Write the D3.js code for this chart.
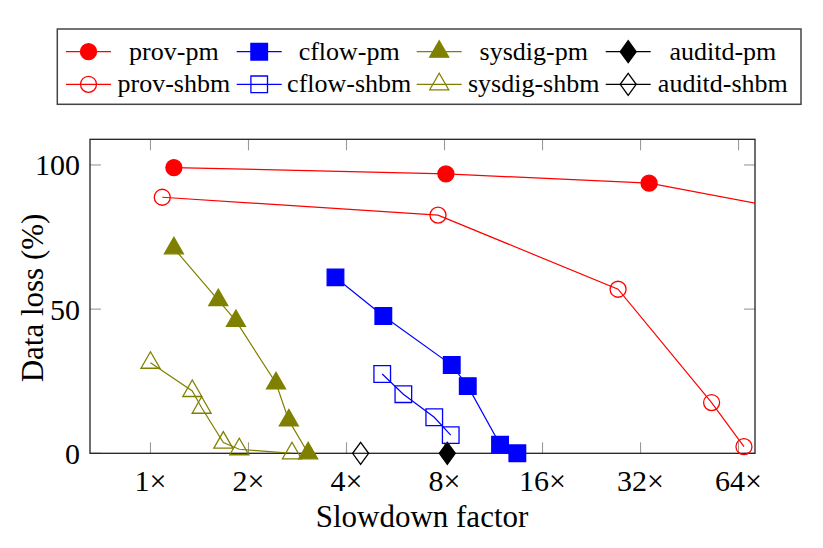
<!DOCTYPE html>
<html>
<head>
<meta charset="utf-8">
<script src="https://cdn.jsdelivr.net/npm/d3@7"></script>
<style>
  body { margin: 0; background: #fff; }
</style>
</head>
<body>
<svg id="chart" width="823" height="548" font-family="'Liberation Serif', 'DejaVu Serif', serif"></svg>
<script>
// data
const xTicks = [1, 2, 4, 8, 16, 32, 64];
const yTicks = [0, 50, 100];
const xTickLabels = ['1×', '2×', '4×', '8×', '16×', '32×', '64×'];

const provPmX = [1.18, 8.08, 34.0, 128];
const provPmY = [99.1, 96.9, 93.7, 81.4];
const cflowPmX = [3.7, 5.19, 8.42, 9.43, 11.85, 13.39];
const cflowPmY = [61.0, 47.6, 30.6, 23.3, 3.0, 0];
const sysdigPmX = [1.18, 1.615, 1.83, 2.43, 2.66, 3.05];
const sysdigPmY = [71.1, 53.1, 45.9, 24.3, 11.4, 0];
const auditdPmX = [8.16];
const auditdPmY = [0];

const provShbmX = [1.087, 7.64, 27.3, 52.9, 66.5];
const provShbmY = [88.8, 82.6, 56.9, 17.6, 2.3];
const cflowShbmX = [5.15, 5.98, 7.44, 8.36];
const cflowShbmY = [27.5, 20.5, 12.5, 6.3];
const sysdigShbmX = [1.0, 1.344, 1.436, 1.674, 1.874, 2.72];
const sysdigShbmY = [31.4, 21.6, 15.8, 3.7, 1.4, 0];
const auditdShbmX = [4.42];
const auditdShbmY = [0];

const legendNames = ['prov-pm', 'cflow-pm', 'sysdig-pm', 'auditd-pm',
                     'prov-shbm', 'cflow-shbm', 'sysdig-shbm', 'auditd-shbm'];

const zip = (xs, ys) => xs.map((x, i) => ({x: x, y: ys[i]}));

const series = [
  {name: 'prov-pm', color: '#ff0000', mark: 'circle', filled: true, pts: zip(provPmX, provPmY)},
  {name: 'cflow-pm', color: '#0000ff', mark: 'square', filled: true, pts: zip(cflowPmX, cflowPmY)},
  {name: 'sysdig-pm', color: '#808000', mark: 'triangle', filled: true, pts: zip(sysdigPmX, sysdigPmY)},
  {name: 'auditd-pm', color: '#000000', mark: 'diamond', filled: true, pts: zip(auditdPmX, auditdPmY)},
  {name: 'prov-shbm', color: '#ff0000', mark: 'circle', filled: false, pts: zip(provShbmX, provShbmY)},
  {name: 'cflow-shbm', color: '#0000ff', mark: 'square', filled: false, pts: zip(cflowShbmX, cflowShbmY)},
  {name: 'sysdig-shbm', color: '#808000', mark: 'triangle', filled: false, pts: zip(sysdigShbmX, sysdigShbmY)},
  {name: 'auditd-shbm', color: '#000000', mark: 'diamond', filled: false, pts: zip(auditdShbmX, auditdShbmY)}
];

const plotLeft = 90, plotRight = 755, plotTop = 139.3, plotBottom = 453.3;
const tickLen = 11;

const svg = d3.select('#chart');

const xScale = d3.scaleLog().base(2).domain([0.652, 71.9]).range([plotLeft, plotRight]);
const yScale = d3.scaleLinear().domain([0, 108.9]).range([plotBottom, plotTop]);

function markPath(type) {
  if (type === 'circle') return 'M8,0A8,8 0 1,1 -8,0A8,8 0 1,1 8,0Z';
  if (type === 'square') return 'M-8.3,-8.3H8.3V8.3H-8.3Z';
  if (type === 'triangle') return 'M0,-11L9.5,5.5L-9.5,5.5Z';
  return 'M0,-11L8,0L0,11L-8,0Z';
}

function drawMark(g, s, x, y) {
  g.append('path')
    .attr('d', markPath(s.mark))
    .attr('transform', `translate(${x},${y})`)
    .attr('fill', s.filled ? s.color : 'none')
    .attr('stroke', s.color)
    .attr('stroke-width', 1.3);
}

svg.append('defs').append('clipPath').attr('id', 'plotclip')
  .append('rect').attr('x', plotLeft).attr('y', plotTop)
  .attr('width', plotRight - plotLeft).attr('height', plotBottom - plotTop);

// ticks, inward on all sides
const ticks = svg.append('g').attr('stroke', '#999').attr('stroke-width', 1.1);
xTicks.forEach(t => {
  ticks.append('line').attr('x1', xScale(t)).attr('x2', xScale(t)).attr('y1', plotBottom).attr('y2', plotBottom - tickLen);
  ticks.append('line').attr('x1', xScale(t)).attr('x2', xScale(t)).attr('y1', plotTop).attr('y2', plotTop + tickLen);
});
yTicks.forEach(t => {
  ticks.append('line').attr('x1', plotLeft).attr('x2', plotLeft + tickLen).attr('y1', yScale(t)).attr('y2', yScale(t));
  ticks.append('line').attr('x1', plotRight).attr('x2', plotRight - tickLen).attr('y1', yScale(t)).attr('y2', yScale(t));
});

svg.append('rect').attr('x', plotLeft).attr('y', plotTop)
  .attr('width', plotRight - plotLeft).attr('height', plotBottom - plotTop)
  .attr('fill', 'none').attr('stroke', '#222').attr('stroke-width', 1.3);

// tick labels
svg.append('g').selectAll('text').data(xTicks).enter().append('text')
  .attr('x', d => xScale(d)).attr('y', 491)
  .attr('text-anchor', 'middle').attr('font-size', 30)
  .text((d, i) => xTickLabels[i]);

svg.append('g').selectAll('text').data(yTicks).enter().append('text')
  .attr('x', 80).attr('y', d => yScale(d)).attr('dy', '0.35em')
  .attr('text-anchor', 'end').attr('font-size', 30)
  .text(d => d);

svg.append('text').attr('x', 422).attr('y', 527).attr('text-anchor', 'middle')
  .attr('font-size', 31).text('Slowdown factor');
svg.append('text').attr('transform', 'translate(43,298) rotate(-90)').attr('text-anchor', 'middle')
  .attr('font-size', 31).text('Data loss (%)');

// lines and marks
const line = d3.line().x(d => xScale(d.x)).y(d => yScale(d.y));
const plot = svg.append('g');
series.forEach(s => {
  plot.append('path').attr('d', line(s.pts)).attr('fill', 'none')
    .attr('stroke', s.color).attr('stroke-width', 1.2).attr('clip-path', 'url(#plotclip)');
  const mg = plot.append('g');
  s.pts.forEach(p => drawMark(mg, s, xScale(p.x), yScale(p.y)));
});

// legend
const legend = svg.append('g');
legend.append('rect').attr('x', 57.3).attr('y', 29).attr('width', 743.7).attr('height', 75.3)
  .attr('fill', 'white').attr('stroke', '#444').attr('stroke-width', 1.5);
const colStart = [66, 236.7, 416.7, 605.7];
const colTextEnd = [236.7, 416.7, 605.7, 795];
const rowY = [51.7, 84.3];
legendNames.forEach((name, i) => {
  const s = series.find(d => d.name === name);
  const c = i % 4, r = Math.floor(i / 4);
  const x0 = colStart[c], y0 = rowY[r];
  legend.append('line').attr('x1', x0).attr('x2', x0 + 45).attr('y1', y0).attr('y2', y0)
    .attr('stroke', s.color).attr('stroke-width', 1.2);
  drawMark(legend, s, x0 + 22.5, y0);
  legend.append('text').attr('x', (x0 + 45 + colTextEnd[c]) / 2).attr('y', y0 + 8)
    .attr('text-anchor', 'middle').attr('font-size', 26).text(name);
});
</script>
</body>
</html>
